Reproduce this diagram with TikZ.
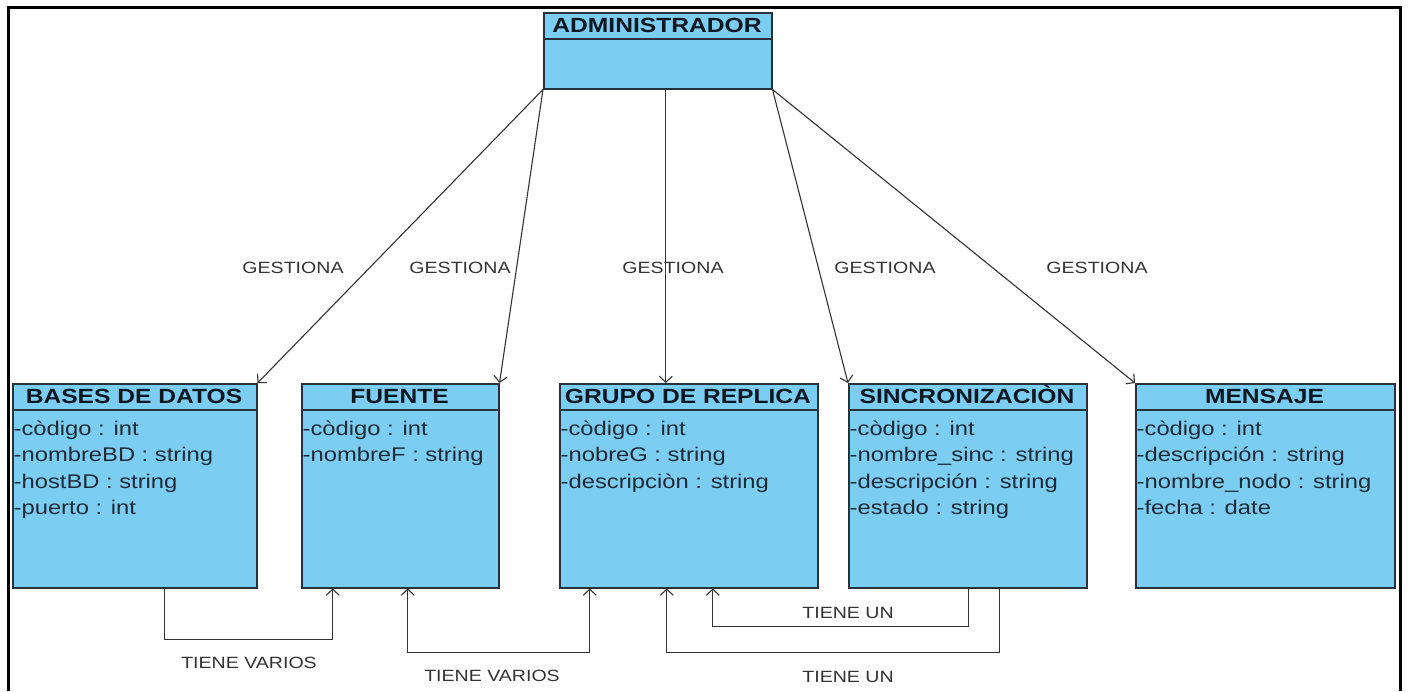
\documentclass[tikz,border=0pt]{standalone}
\usepackage{fontspec}
\setmainfont[FakeStretch=1.2]{Liberation Sans}
\usetikzlibrary{arrows.meta}

\definecolor{classfill}{HTML}{7BCDF2}
\definecolor{classedge}{HTML}{27313C}
\definecolor{titleink}{HTML}{0E1620}
\definecolor{attrink}{HTML}{1F2A36}
\definecolor{wire}{HTML}{333333}

% UML class: #1 name, #2 left, #3 right, #4 top, #5 header rule, #6 bottom, #7 title, #8 attributes
\newcommand\umlclass[8]{%
  \node[classbody, minimum width={(#3-#2)*1pt}, minimum height={(#6-#4)*1pt}] (#1) at (#2,#4) {};
  \draw[classrule] (#2,#5) -- (#3,#5);
  \node[classtitle] (#1-title) at ({(#2+#3)/2},{(#4+#5)/2+7.3}) {#7};
  \foreach \attrtext [count=\i] in {#8}
    \node[attr] (#1-a\i) at ({#2+1.5},{#5+25+(\i-1)*26.5}) {\attrtext};
}

\begin{document}
\begin{tikzpicture}[x=1pt,y=-1pt,
  classbody/.style={draw=classedge, line width=1.5pt, fill=classfill, inner sep=0pt, anchor=north west},
  classrule/.style={draw=classedge, line width=1.5pt},
  classtitle/.style={font=\fontsize{20.5}{24}\selectfont\bfseries, text=titleink, inner sep=0pt, anchor=base},
  attr/.style={font=\fontsize{19.8}{23}\selectfont, text=attrink, inner sep=0pt, anchor=base west},
  lbl/.style={font=\fontsize{16.3}{19}\selectfont, text=wire, inner sep=0pt},
  assoc/.style={draw=wire, line width=1.1pt},
  >={Straight Barb[length=6pt,width=13pt]},
  frame/.style={line width=3pt}
]
\useasboundingbox (0,0) rectangle (1408,691);
\fill[white] (0,0) rectangle (1408,691);

% outer frame (open at the bottom)
\draw[frame] (8.3,691) -- (8.3,7.5) -- (1400,7.5) -- (1400,691);

% classes
\umlclass{admin}{543}{771}{12}{39}{88}{ADMINISTRADOR}{}
\umlclass{bd}{12}{256}{383}{410}{587}{BASES DE DATOS}{-còdigo : int, -nombreBD : string, -hostBD : string, -puerto : int}
\umlclass{fuente}{301}{498}{383}{410}{587}{FUENTE}{-còdigo : int, -nombreF : string}
\umlclass{grupo}{559}{817}{383}{410}{587}{GRUPO DE REPLICA}{-còdigo : int, -nobreG : string, -descripciòn : string}
\umlclass{sinc}{848}{1086}{383}{410}{587}{SINCRONIZACIÒN}{-còdigo : int, -nombre\_sinc : string, -descripción : string, -estado : string}
\umlclass{mensaje}{1135}{1394}{383}{410}{587}{MENSAJE}{-còdigo : int, -descripción : string, -nombre\_nodo : string, -fecha : date}

% management associations
\draw[assoc,->] (admin.south west) -- (bd.north east);
\draw[assoc,->] (admin.south west) -- (fuente.north east);
\draw[assoc,->] ([xshift=8pt]admin.south) -- ([xshift=8pt]admin.south |- grupo.north);
\draw[assoc,->] (admin.south east) -- (sinc.north west);
\draw[assoc,->] (admin.south east) -- (mensaje.north west);

\node[lbl] (g1) at (293,268) {GESTIONA};
\node[lbl] (g2) at (460,268) {GESTIONA};
\node[lbl] (g3) at (673,268) {GESTIONA};
\node[lbl] (g4) at (885,268) {GESTIONA};
\node[lbl] (g5) at (1097,268) {GESTIONA};

% associations between classes
\draw[assoc,->] ([xshift=30pt]bd.south) -- ++(0,51) -| ([xshift=-67.5pt]fuente.south);
\draw[assoc,<->] ([xshift=7.5pt]fuente.south) -- ++(0,64) -| ([xshift=-99pt]grupo.south);
\draw[assoc,->] ([xshift=1pt]sinc.south) -- ++(0,38) -| ([xshift=24pt]grupo.south);
\draw[assoc,->] ([xshift=32pt]sinc.south) -- ++(0,64) -| ([xshift=-22pt]grupo.south);

\node[lbl] (t1) at (249,663) {TIENE VARIOS};
\node[lbl] (t2) at (492,676) {TIENE VARIOS};
\node[lbl] (t3) at (848,613) {TIENE UN};
\node[lbl] (t4) at (848,677) {TIENE UN};
\end{tikzpicture}
\end{document}
